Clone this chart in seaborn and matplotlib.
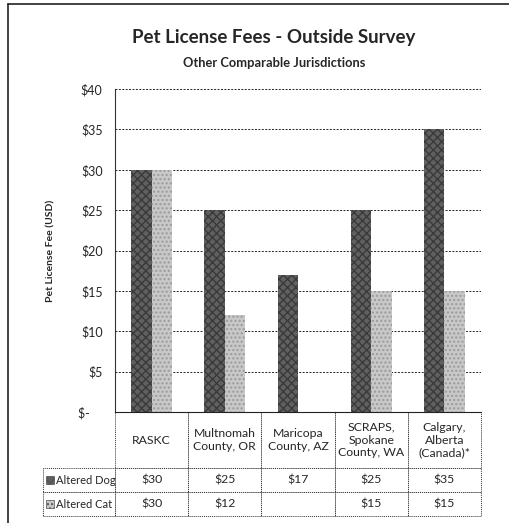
import pandas as pd
import numpy as np
import matplotlib
matplotlib.use("Agg")
import matplotlib.pyplot as plt
import seaborn as sns
from matplotlib.lines import Line2D
from matplotlib.patches import Rectangle

# Data
jurisdictions = ["RASKC", "Multnomah\nCounty, OR", "Maricopa\nCounty, AZ",
                 "SCRAPS,\nSpokane\nCounty, WA", "Calgary,\nAlberta\n(Canada)*"]
altered_dog = [30, 25, 17, 25, 35]
altered_cat = [30, 12, np.nan, 15, 15]
series = ["Altered Dog", "Altered Cat"]
yticks = [0, 5, 10, 15, 20, 25, 30, 35, 40]
ytick_labels = ["$-    ", "$5", "$10", "$15", "$20", "$25", "$30", "$35", "$40"]

colors = {"Altered Dog": "#606060", "Altered Cat": "#c8c8c8"}
hatches = {"Altered Dog": "xxxx", "Altered Cat": "...."}

df = pd.DataFrame({
    "jurisdiction": jurisdictions * 2,
    "series": [series[0]] * 5 + [series[1]] * 5,
    "fee": altered_dog + altered_cat,
})

sns.set_style("white")
plt.rcParams["font.family"] = ["Lato", "DejaVu Sans"]

fig = plt.figure(figsize=(5.09, 5.23), dpi=100)
ax = fig.add_axes([0.226, 0.2122, 0.719, 0.6176])

sns.barplot(data=df, x="jurisdiction", y="fee", hue="series", palette=colors,
            width=0.56, gap=0, saturation=1, ax=ax, legend=False,
            edgecolor="none", errorbar=None)

# dithered look of the scanned bars
for bar, s in zip(ax.patches, df["series"]):
    bar.set_hatch(hatches[s])
    bar.set_edgecolor("#3a3a3a" if s == "Altered Dog" else "#9a9a9a")
    bar.set_linewidth(0)

ax.set_ylim(0, 40)
ax.set_xlim(-0.5, 4.5)
ax.set_yticks(yticks)
ax.set_yticklabels(ytick_labels, fontsize=9)
ax.tick_params(axis="y", length=0, pad=9)
ax.set_xticks([])
ax.set_xlabel("")
ax.set_ylabel("Pet License Fee (USD)", fontsize=7.5, fontweight="bold", labelpad=16)
ax.yaxis.grid(True, color="#222222", linestyle=(0, (2, 1.5)), linewidth=0.7)
ax.set_axisbelow(True)
for side in ["top", "right"]:
    ax.spines[side].set_visible(False)
ax.spines["left"].set_linestyle((0, (1, 1)))
ax.spines["left"].set_color("#333333")
ax.spines["bottom"].set_color("#222222")

# data table under the plot (bbox covers the grid; row labels hang to the left)
cell_text = [[f"${v:.0f}" for v in altered_dog],
             ["" if np.isnan(v) else f"${v:.0f}" for v in altered_cat]]
tbl = ax.table(cellText=cell_text, rowLabels=["", ""],
               colLabels=jurisdictions, cellLoc="center",
               bbox=[0, -104 / 323, 1, 104 / 323])
tbl._autoColumns = [c for c in tbl._autoColumns if c != -1]  # keep fixed label width
tbl.auto_set_font_size(False)
tbl.set_fontsize(8.8)
for (r, c), cell in tbl.get_celld().items():
    cell.set_linestyle((0, (1, 1)))
    cell.set_edgecolor("#333333")
    cell.set_linewidth(0.7)
    cell.set_height(56 / 323 if r == 0 else 24 / 323)
    cell.set_width(72 / 366 if c == -1 else 0.2)

# row labels with legend swatches
for i, s in enumerate(series):
    y = -(56 + 12 + 24 * i) / 323
    ax.add_patch(Rectangle((-69 / 366, y - 4 / 323), 8 / 366, 8 / 323,
                           transform=ax.transAxes, clip_on=False, zorder=5,
                           facecolor=colors[s], edgecolor="#555555", linewidth=0.5,
                           hatch=hatches[s]))
    ax.text(-59 / 366, y, s, transform=ax.transAxes, ha="left", va="center",
            fontsize=8, zorder=5)

fig.text(0.538, 0.929, "Pet License Fees - Outside Survey", ha="center", va="center",
         fontsize=13.5, fontweight="bold")
fig.text(0.538, 0.879, "Other Comparable Jurisdictions", ha="center", va="center",
         fontsize=9.3, fontweight="bold")

# scanned page frame
fig.add_artist(Line2D([8 / 509, 8 / 509], [0, 1 - 4 / 523], color="#222222", linewidth=1.2))
fig.add_artist(Line2D([8 / 509, 1], [1 - 4 / 523, 1 - 4 / 523], color="#222222", linewidth=1.2))

fig.savefig("out.png", dpi=100)
